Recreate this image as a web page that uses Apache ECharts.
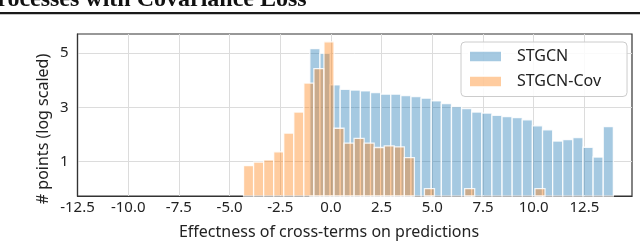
<!DOCTYPE html>
<html><head><meta charset="utf-8">
<script src="https://cdn.jsdelivr.net/npm/echarts@6/dist/echarts.min.js"></script>
<style>html,body{margin:0;padding:0;background:#fff}#c{width:640px;height:241px}</style>
</head><body><div id="c"></div>
<script>
const seriesNames = ['STGCN', 'STGCN-Cov'];
// histogram bin range [left edge, right edge] and log-scaled counts per bin
const blueRange = [-1.04, 13.93];
const blueHeights = [5.17, 5.00, 3.83, 3.67, 3.64, 3.61, 3.55, 3.49, 3.49, 3.44,
                     3.40, 3.34, 3.24, 3.14, 3.03, 2.96, 2.83, 2.79, 2.71, 2.66,
                     2.62, 2.54, 2.32, 2.17, 1.76, 1.81, 1.89, 1.53, 1.17, 2.29];
const orangeRange = [-4.31, 10.56];
const orangeHeights = [0.85, 0.98, 1.06, 1.36, 2.05, 2.83, 3.90, 4.43, 5.42, 2.23,
                       1.68, 1.86, 1.68, 1.52, 1.58, 1.54, 1.15, null, 0.0, null,
                       null, null, 0.0, null, null, null, null, null, null, 0.0];
const xTicks = [-12.5, -10, -7.5, -5, -2.5, 0, 2.5, 5, 7.5, 10, 12.5];
const yTicks = [1, 3, 5];
const xLimits = [-12.5, 14.85];
const yLimits = [-0.27, 5.71];
const xTitle = 'Effectness of cross-terms on predictions';
const yTitle = '# points (log scaled)';
const headerText = 'Processes with Covariance Loss';

function bins(range, heights) {
  const n = heights.length, w = (range[1] - range[0]) / n;
  const out = [];
  heights.forEach((h, i) => {
    if (h !== null) out.push([range[0] + i * w, range[0] + (i + 1) * w, h]);
  });
  return out;
}
function renderBar(params, api) {
  const a = api.coord([api.value(0), api.value(2)]);
  const b = api.coord([api.value(1), yLimits[0]]);
  return {
    type: 'rect',
    shape: { x: a[0], y: a[1], width: b[0] - a[0], height: b[1] - a[1] },
    style: { fill: api.visual('color'), stroke: 'rgba(255,255,255,0.85)', lineWidth: 1.3 }
  };
}
const FONT = '"Noto Sans", "Open Sans", sans-serif';
const chart = echarts.init(document.getElementById('c'), null, { renderer: 'canvas' });
chart.setOption({
  animation: false,
  backgroundColor: '#fff',
  grid: { left: 77.5, right: 8, top: 34, bottom: 45, show: true, borderColor: '#333', borderWidth: 1.2 },
  xAxis: {
    type: 'value', min: xLimits[0], max: xLimits[1],
    axisLine: { show: true, onZero: false, lineStyle: { color: '#333', width: 1.2 } },
    axisTick: { show: false, customValues: xTicks },
    axisLabel: { customValues: xTicks, formatter: v => v.toFixed(1), fontSize: 15, fontFamily: FONT, color: '#222', margin: 4 },
    splitLine: { show: true, lineStyle: { color: '#dcdcdc', width: 1 } }
  },
  yAxis: {
    type: 'value', min: yLimits[0], max: yLimits[1],
    axisLine: { show: true, onZero: false, lineStyle: { color: '#333', width: 1.2 } },
    axisTick: { show: false, customValues: yTicks },
    axisLabel: { customValues: yTicks, formatter: v => String(v), fontSize: 15, fontFamily: FONT, color: '#222', margin: 9 },
    splitLine: { show: true, lineStyle: { color: '#dcdcdc', width: 1 } }
  },
  legend: {
    orient: 'vertical', left: 461, top: 42,
    padding: [6.5, 26, 7, 7], itemGap: 9,
    itemWidth: 33, itemHeight: 11.5,
    backgroundColor: 'rgba(255,255,255,0.85)', borderColor: '#cccccc', borderWidth: 1, borderRadius: 4,
    textStyle: { fontSize: 16, fontFamily: FONT, color: '#222', lineHeight: 16, padding: [0, 0, 0, 10] },
    data: seriesNames.map(n => ({ name: n, icon: 'rect' }))
  },
  graphic: [
    { type: 'rect', left: 0, top: 12, shape: { width: 640, height: 2.2 }, style: { fill: '#1a1a1a' }, z: 10 },
    { type: 'text', x: -17.5, y: 11.8, style: { text: headerText, font: 'bold 24px "Liberation Serif", serif', fill: '#111', textAlign: 'left', textVerticalAlign: 'bottom', align: 'left', verticalAlign: 'bottom' }, z: 10 },
    { type: 'text', x: 329, y: 232, style: { text: xTitle, font: '16px ' + FONT, fill: '#222', textAlign: 'center', textVerticalAlign: 'middle', align: 'center', verticalAlign: 'middle' }, z: 10 },
    { type: 'text', x: 43, y: 129, rotation: Math.PI / 2, style: { text: yTitle, font: '16px ' + FONT, fill: '#222', textAlign: 'center', textVerticalAlign: 'middle', align: 'center', verticalAlign: 'middle' }, z: 10 }
  ],
  series: [
    { name: seriesNames[0], type: 'custom', renderItem: renderBar, encode: { x: [0, 1], y: 2 },
      itemStyle: { color: 'rgba(31,119,180,0.4)', borderColor: '#fff', borderWidth: 1 }, data: bins(blueRange, blueHeights), z: 2 },
    { name: seriesNames[1], type: 'custom', renderItem: renderBar, encode: { x: [0, 1], y: 2 },
      itemStyle: { color: 'rgba(255,127,14,0.4)', borderColor: '#fff', borderWidth: 1 }, data: bins(orangeRange, orangeHeights), z: 3 }
  ]
});
</script></body></html>
